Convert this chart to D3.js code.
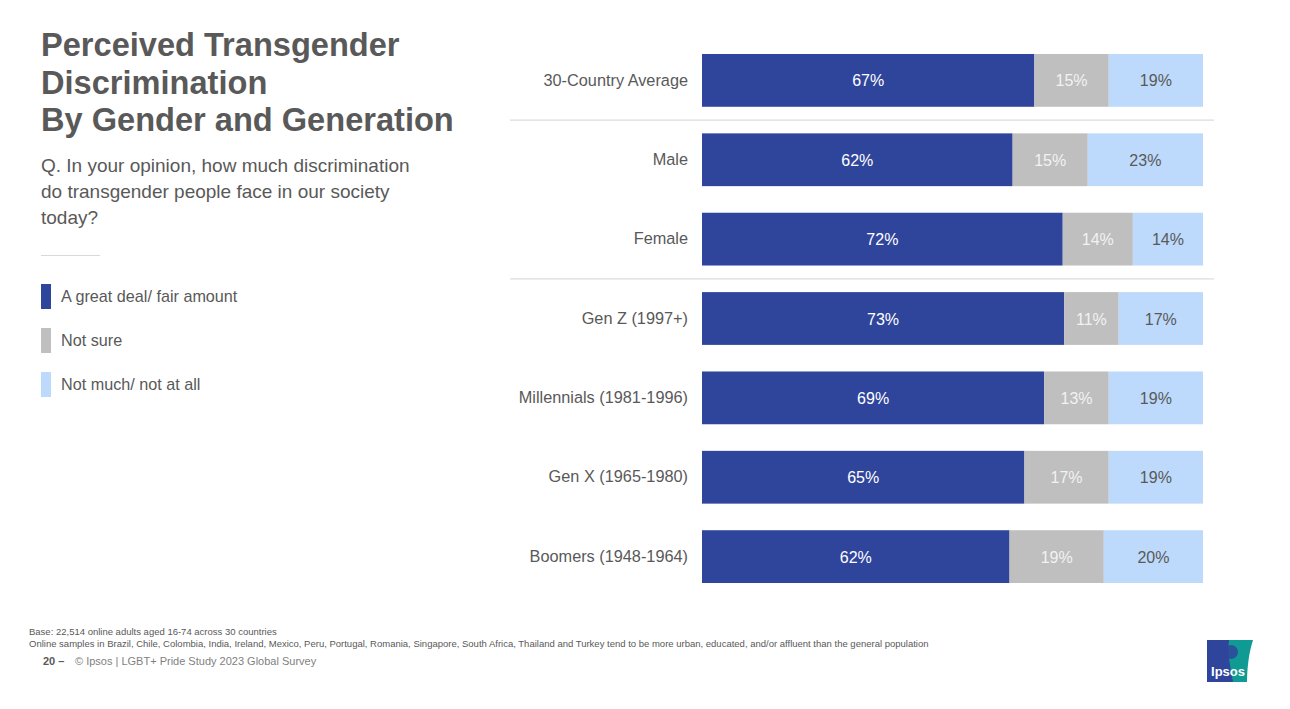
<!DOCTYPE html>
<html><head><meta charset="utf-8">
<script src="https://cdn.jsdelivr.net/npm/d3@7"></script>
<style>body{margin:0;background:#fff;}svg{display:block;font-family:"Liberation Sans",Arial,sans-serif;}</style>
</head><body>
<svg id="c" width="1290" height="709"></svg>
<script>
const categories = ["30-Country Average","Male","Female","Gen Z (1997+)","Millennials (1981-1996)","Gen X (1965-1980)","Boomers (1948-1964)"];
const greatDeal = [67,62,72,73,69,65,62];
const notSure   = [15,15,14,11,13,17,19];
const notMuch   = [19,23,14,17,19,19,20];
const seriesNames = ["A great deal/ fair amount","Not sure","Not much/ not at all"];
const seriesKeys = ["great","sure","much"];
const colors = ["#2F459C","#BFBFBF","#BDD9FB"];
const labelColors = ["#ffffff","#f2f2f2","#595959"];
const separatorsAfter = [0,2];

const svg = d3.select("#c");
const textCol = "#595959";

// Title
const title = ["Perceived Transgender","Discrimination","By Gender and Generation"];
svg.append("g").selectAll("text").data(title).join("text")
  .attr("x",41).attr("y",(d,i)=>56+i*37.5)
  .attr("font-size",32.6).attr("font-weight","bold").attr("fill",textCol).text(d=>d);
const sub = ["Q. In your opinion, how much discrimination","do transgender people face in our society","today?"];
svg.append("g").selectAll("text").data(sub).join("text")
  .attr("x",41).attr("y",(d,i)=>172+i*26)
  .attr("font-size",19).attr("fill",textCol).text(d=>d);
svg.append("line").attr("x1",41).attr("x2",100).attr("y1",255.5).attr("y2",255.5).attr("stroke","#d9d9d9").attr("stroke-width",1.2);

// Legend
const lg = svg.append("g").selectAll("g").data(seriesNames).join("g")
  .attr("transform",(d,i)=>`translate(41,${284+i*44})`);
lg.append("rect").attr("width",10).attr("height",25).attr("fill",(d,i)=>colors[i]);
lg.append("text").attr("x",20).attr("y",18).attr("font-size",16.2).attr("fill",textCol).text(d=>d);

// Data
const rows = categories.map((c,i)=>({cat:c,great:greatDeal[i],sure:notSure[i],much:notMuch[i]}));
const stack = d3.stack().keys(seriesKeys).offset(d3.stackOffsetExpand);
const layers = stack(rows);

const x = d3.scaleLinear().domain([0,1]).range([702,1203]);
const y = d3.scaleBand().domain(categories).range([40.5,596.5]).paddingInner(0.335).paddingOuter(0.17);

const g = svg.append("g");
layers.forEach((layer,li)=>{
  const lgp = g.append("g");
  lgp.selectAll("rect").data(layer).join("rect")
    .attr("x",d=>x(d[0])).attr("width",d=>x(d[1])-x(d[0]))
    .attr("y",d=>y(d.data.cat)).attr("height",y.bandwidth())
    .attr("fill",colors[li]);
  lgp.selectAll("text").data(layer).join("text")
    .attr("x",d=>(x(d[0])+x(d[1]))/2).attr("y",d=>y(d.data.cat)+y.bandwidth()/2+6)
    .attr("text-anchor","middle").attr("font-size",16).attr("fill",labelColors[li])
    .text(d=>d.data[seriesKeys[li]]+"%");
});

// category axis
const yAxis = d3.axisLeft(y).tickSize(0).tickPadding(14);
const ax = svg.append("g").attr("transform","translate(702,0)").call(yAxis);
ax.select(".domain").remove();
ax.selectAll("text").attr("font-size",16.3).attr("fill",textCol).attr("font-family","'Liberation Sans',Arial,sans-serif");

// separators
const step = y.step();
svg.append("g").selectAll("line").data(separatorsAfter).join("line")
  .attr("x1",510).attr("x2",1214)
  .attr("y1",d=>y(categories[d])+y.bandwidth()+(step-y.bandwidth())/2)
  .attr("y2",d=>y(categories[d])+y.bandwidth()+(step-y.bandwidth())/2)
  .attr("stroke","#dcdcdc").attr("stroke-width",1.2);

// Footer
svg.append("text").attr("x",29).attr("y",635).attr("font-size",9.5).attr("fill",textCol)
  .text("Base: 22,514 online adults aged 16-74 across 30 countries");
svg.append("text").attr("x",29).attr("y",647).attr("font-size",9.5).attr("fill",textCol)
  .text("Online samples in Brazil, Chile, Colombia, India, Ireland, Mexico, Peru, Portugal, Romania, Singapore, South Africa, Thailand and Turkey tend to be more urban, educated, and/or affluent than the general population");
svg.append("text").attr("x",43).attr("y",665).attr("font-size",11).attr("font-weight","bold").attr("fill",textCol).text("20 –");
svg.append("text").attr("x",75).attr("y",665).attr("font-size",11).attr("fill","#7f7f7f").text("© Ipsos | LGBT+ Pride Study 2023 Global Survey");

// Logo
const logo = svg.append("g").attr("transform","translate(1207,640)");
logo.append("rect").attr("width",46).attr("height",42).attr("fill","#0F9B93");
logo.append("path").attr("d","M0,0 H22 C20,14 24,30 26,42 H0 Z").attr("fill","#2F459C");
logo.append("path").attr("d","M46,0 C42,12 40,28 40,42 H46 Z").attr("fill","#ffffff");
logo.append("circle").attr("cx",24).attr("cy",12).attr("r",7).attr("fill","#2F459C").attr("opacity",0.85);
logo.append("text").attr("x",21).attr("y",36).attr("text-anchor","middle").attr("font-size",13).attr("font-weight","bold").attr("fill","#fff").text("Ipsos");
</script>
</body></html>
